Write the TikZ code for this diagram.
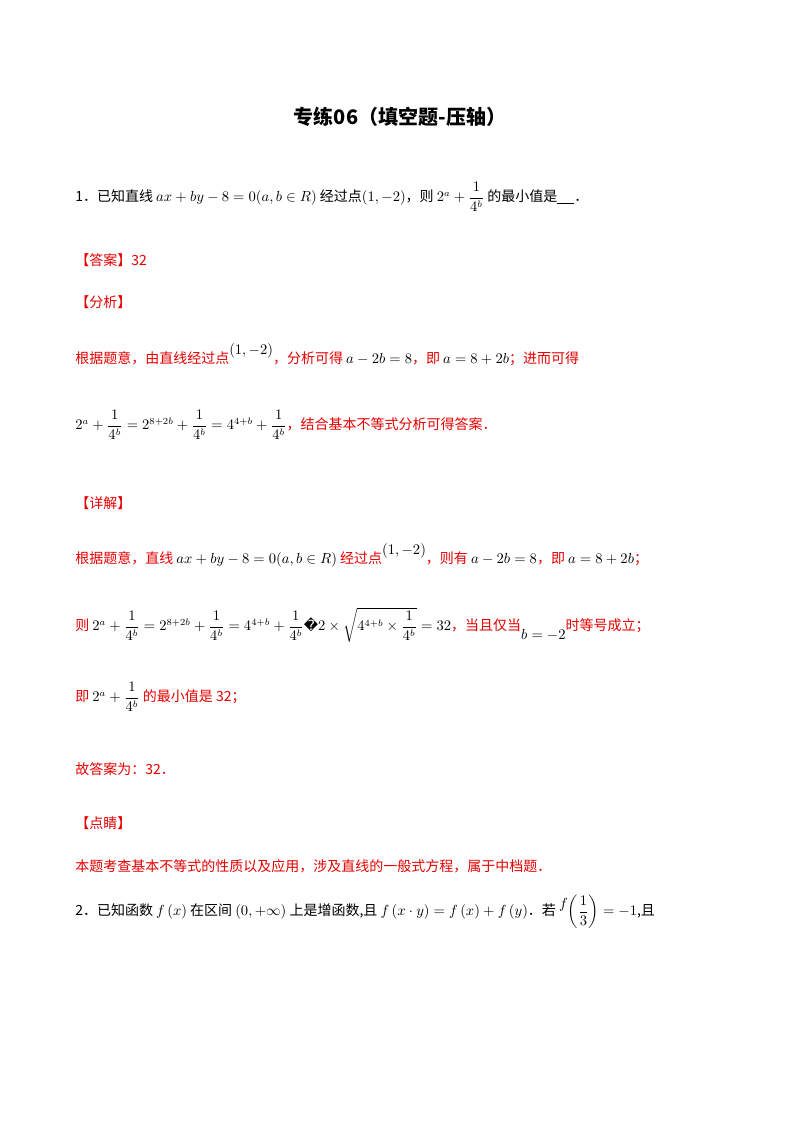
\documentclass[tikz,border=0pt]{standalone}
\usepackage{amsmath,amssymb}
\usepackage{fontspec}
\newfontfamily\cjk{Noto Sans CJK SC}
\newfontfamily\dejavu{DejaVu Sans}
\definecolor{ansred}{RGB}{230,0,0}
\tikzset{line/.style={anchor=west,inner sep=0pt,font=\cjk\fontsize{10.5pt}{12pt}\selectfont},
 redline/.style={line,text=ansred}}
\newcommand{\bk}[1]{{\color{black}$#1$}}
\begin{document}
\begin{tikzpicture}[x=0.75pt,y=-0.75pt]
\useasboundingbox (0,0) rectangle (800,1132);
\fill[white] (0,0) rectangle (800,1132);
\node[anchor=center,inner sep=0pt,font=\cjk\bfseries\fontsize{15pt}{18pt}\selectfont] (title) at (400,117) {专练06（填空题-压轴）};
\node[line] (q1) at (75,197) {1．已知直线 $ax+by-8=0(a,b\in R)$ 经过点$(1,-2)$，则 $2^a+\dfrac{1}{4^b}$ 的最小值是\underline{\hspace{1.2em}}．};
\node[redline] (ans) at (75,260) {【答案】32};
\node[redline] (fx) at (75,302) {【分析】};
\node[redline] (f1) at (75,355) {根据题意，由直线经过点\raisebox{1.2ex}{\bk{(1,-2)}}，分析可得 \bk{a-2b=8}，即 \bk{a=8+2b}；进而可得};
\node[redline] (f2) at (75,425) {\bk{2^a+\dfrac{1}{4^b}=2^{8+2b}+\dfrac{1}{4^b}=4^{4+b}+\dfrac{1}{4^b}}，结合基本不等式分析可得答案．};
\node[redline] (xj) at (75,503) {【详解】};
\node[redline] (d1) at (75,555) {根据题意，直线 \bk{ax+by-8=0(a,b\in R)} 经过点\raisebox{1.2ex}{\bk{(1,-2)}}，则有 \bk{a-2b=8}，即 \bk{a=8+2b}；};
\node[redline] (d2) at (75,625) {则 \bk{2^a+\dfrac{1}{4^b}=2^{8+2b}+\dfrac{1}{4^b}=4^{4+b}+\dfrac{1}{4^b}}{\color{black}\dejavu �}\bk{2\times\sqrt{4^{4+b}\times\dfrac{1}{4^b}}=32}，当且仅当\raisebox{-1.2ex}{\bk{b=-2}}时等号成立；};
\node[redline] (d3) at (75,697) {即 \bk{2^a+\dfrac{1}{4^b}} 的最小值是 32；};
\node[redline] (d4) at (75,769) {故答案为：32．};
\node[redline] (dj) at (75,823) {【点睛】};
\node[redline] (d5) at (75,866) {本题考查基本不等式的性质以及应用，涉及直线的一般式方程，属于中档题．};
\node[line] (q2) at (75,912) {2．已知函数 $f\left(x\right)$ 在区间 $\left(0,+\infty\right)$ 上是增函数,且 $f\left(x\cdot y\right)=f\left(x\right)+f\left(y\right)$．若 \raisebox{1ex}{$f$}$\left(\dfrac{1}{3}\right)=-1$,且};
\end{tikzpicture}
\end{document}
